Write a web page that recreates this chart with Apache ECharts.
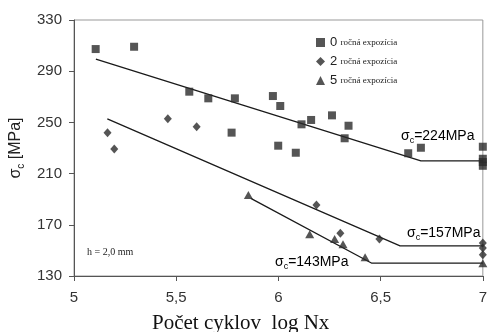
<!DOCTYPE html>
<html>
<head>
  <meta charset="UTF-8" />
  <title>Počet cyklov - σc</title>
  <script src="https://cdn.jsdelivr.net/npm/echarts@6/dist/echarts.min.js"></script>
  <style>
    body { margin: 0; background: #fff; }
    #chart { width: 490px; height: 332px; }
  </style>
</head>
<body>
  <div id="chart"></div>
  <script>
    // tick values
    const xTicks = [5, 5.5, 6, 6.5, 7];
    const yTicks = [130, 170, 210, 250, 290, 330];

    // measured points [log Nx, sigma MPa]
    const exp0 = [
      [5.106, 307.3], [5.294, 309.1], [5.564, 274.0], [5.657, 268.8], [5.787, 268.8],
      [5.771, 242.0], [5.973, 270.6], [6.009, 262.8], [6.113, 248.5], [6.160, 251.9],
      [6.262, 255.5], [6.343, 247.4], [6.324, 237.6], [5.999, 231.8], [6.085, 226.3],
      [6.635, 225.9], [6.697, 230.2], [7, 231.0], [7, 221.6], [7, 219.0], [7, 216.1]
    ];
    const exp2 = [
      [5.164, 242.0], [5.197, 229.2], [5.459, 252.9], [5.600, 246.6], [6.186, 185.5],
      [6.303, 163.4], [6.494, 159.0], [7, 155.8], [7, 151.8], [7, 146.6]
    ];
    const exp5 = [
      [5.853, 193.3], [6.153, 162.6], [6.275, 159.0], [6.316, 154.8], [6.424, 144.6],
      [7, 140.0]
    ];

    // fitted curves (sloped part + fatigue limit)
    const fit0 = [[5.107, 299.5], [6.697, 220.0], [7, 220.0]];
    const fit2 = [[5.163, 252.7], [6.595, 153.5], [7, 153.5]];
    const fit5 = [[5.865, 190.7], [6.457, 140.0], [7, 140.0]];

    const legendNames = ['0', '2', '5'];

    const chart = echarts.init(document.getElementById('chart'));

    // σ with subscript c
    function sigmaRich(size, subSize) {
      return {
        s: { fontFamily: 'Liberation Sans', fontSize: size, color: '#222', lineHeight: size + 4 },
        c: { fontFamily: 'Liberation Sans', fontSize: subSize, color: '#222', lineHeight: subSize - 1, verticalAlign: 'bottom' }
      };
    }

    function sigLabel(txt, x, y) {
      return {
        type: 'text', x: x, y: y, z: 10,
        style: { text: '{s|σ}{c|c}{s|' + txt + '}', rich: sigmaRich(14, 9), verticalAlign: 'middle' }
      };
    }

    const lineStyle = { color: '#1a1a1a', width: 1.3 };

    chart.setOption({
      animation: false,
      backgroundColor: '#fff',
      grid: { left: 72, right: 7, top: 20, bottom: 56, show: true, borderColor: '#999', borderWidth: 1 },
      legend: {
        data: legendNames,
        orient: 'vertical',
        left: 311,
        top: 31,
        itemWidth: 9,
        itemHeight: 9,
        itemGap: 6,
        formatter: n => '{n|' + n + '} {t|ročná expozícia}',
        textStyle: {
          rich: {
            n: { fontFamily: 'Liberation Sans', fontSize: 13, color: '#222', lineHeight: 12 },
            t: { fontFamily: 'Liberation Serif', fontSize: 9, color: '#222', lineHeight: 12 }
          }
        }
      },
      xAxis: {
        type: 'value', min: 5, max: 7,
        axisLine: { lineStyle: { color: '#555', width: 1 } },
        axisTick: { customValues: xTicks, length: 5, lineStyle: { color: '#555' } },
        axisLabel: {
          customValues: xTicks, margin: 14, fontSize: 15, color: '#333', fontFamily: 'Liberation Sans',
          formatter: v => String(v).replace('.', ',')
        },
        splitLine: { show: false }
      },
      yAxis: {
        type: 'value', min: 130, max: 330,
        name: '{s|σ}{c|c}{s| [MPa]}',
        nameLocation: 'middle', nameRotate: 90, nameGap: 48,
        nameTextStyle: { rich: sigmaRich(16, 10) },
        axisLine: { show: true, lineStyle: { color: '#555', width: 1 } },
        axisTick: { show: true, customValues: yTicks, length: 5, lineStyle: { color: '#555' } },
        axisLabel: { customValues: yTicks, margin: 12, fontSize: 15, color: '#333', fontFamily: 'Liberation Sans' },
        splitLine: { show: false }
      },
      series: [
        { type: 'line', data: fit0, showSymbol: false, lineStyle: lineStyle, z: 1, silent: true },
        { type: 'line', data: fit2, showSymbol: false, lineStyle: lineStyle, z: 1, silent: true },
        { type: 'line', data: fit5, showSymbol: false, lineStyle: lineStyle, z: 1, silent: true },
        { name: '0', type: 'scatter', data: exp0, symbol: 'rect', symbolSize: 8, clip: false,
          itemStyle: { color: '#2a2a2a' }, z: 3 },
        { name: '2', type: 'scatter', data: exp2, symbol: 'diamond', symbolSize: [8, 9], clip: false,
          itemStyle: { color: '#2a2a2a' }, z: 3 },
        { name: '5', type: 'scatter', data: exp5, symbol: 'triangle', symbolSize: [9, 8], clip: false,
          itemStyle: { color: '#2a2a2a' }, z: 3 }
      ],
      graphic: [
        sigLabel('=224MPa', 401, 136),
        sigLabel('=157MPa', 407, 233),
        sigLabel('=143MPa', 275, 262),
        {
          type: 'text', x: 87, y: 252,
          style: { text: 'h = 2,0 mm', font: '10px "Liberation Serif"', fill: '#222', verticalAlign: 'middle' }
        },
        {
          type: 'text', x: 152, y: 323,
          style: { text: 'Počet cyklov  log Nx', font: '21px "Liberation Serif"', fill: '#111', verticalAlign: 'middle' }
        }
      ]
    });
  </script>
</body>
</html>
